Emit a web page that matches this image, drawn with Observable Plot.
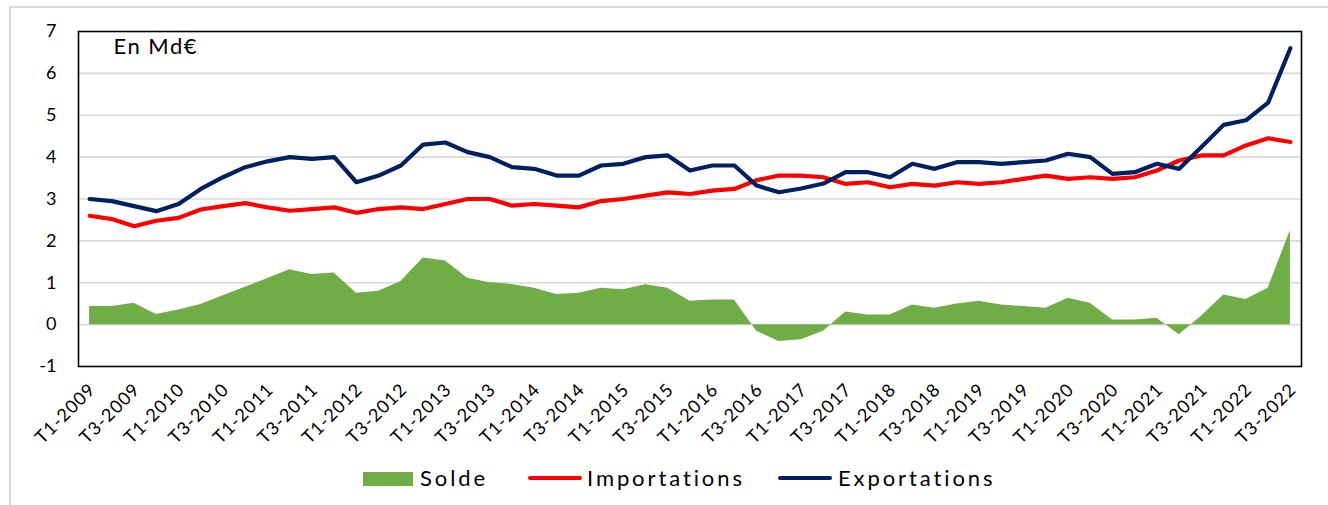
<!DOCTYPE html>
<html>
<head>
<meta charset="utf-8">
<script src="https://cdn.jsdelivr.net/npm/d3@7"></script>
<script src="https://cdn.jsdelivr.net/npm/@observablehq/plot@0.6"></script>
<style>
  html, body { margin: 0; padding: 0; background: #fff; overflow: hidden; }
  body { width: 1328px; height: 505px; position: relative; font-family: Lato, "Open Sans", sans-serif; }
  #border { position: absolute; left: 9px; top: 6px; width: 1400px; height: 600px; border: 2px solid #d9d9d9; box-sizing: border-box; }
  #chart { position: absolute; left: 0; top: 0; }
  .leg { position: absolute; font-size: 22px; letter-spacing: 2.9px; color: #000; line-height: 1; }
  .sw { position: absolute; }
  #chart g[aria-label="x-axis tick label"] text { letter-spacing: 1px; }
  #chart g[aria-label="text"] text { letter-spacing: 1.5px; }
</style>
</head>
<body>
<div id="border"></div>
<div id="chart"></div>
<div id="legend"></div>
<script>
const years = d3.range(2009, 2023);
const quarters = years.flatMap(y => [1, 2, 3, 4].map(q => `T${q}-${y}`)).slice(0, 55);

const exportations = [3.0, 2.95, 2.83, 2.71, 2.88, 3.24, 3.52, 3.76, 3.9, 4.0,
  3.96, 4.0, 3.4, 3.56, 3.8, 4.3, 4.35, 4.12, 4.0, 3.76,
  3.72, 3.56, 3.56, 3.8, 3.84, 4.0, 4.04, 3.68, 3.8, 3.8,
  3.32, 3.16, 3.25, 3.37, 3.64, 3.64, 3.52, 3.84, 3.72, 3.88,
  3.88, 3.84, 3.88, 3.92, 4.08, 4.0, 3.6, 3.64, 3.84, 3.72,
  4.24, 4.77, 4.88, 5.3, 6.6];
const importations = [2.6, 2.52, 2.35, 2.48, 2.55, 2.75, 2.83, 2.9, 2.8, 2.72,
  2.76, 2.8, 2.67, 2.76, 2.8, 2.76, 2.88, 3.0, 3.0, 2.84,
  2.88, 2.84, 2.8, 2.95, 3.0, 3.08, 3.16, 3.12, 3.2, 3.24,
  3.45, 3.56, 3.56, 3.52, 3.36, 3.4, 3.28, 3.36, 3.32, 3.4,
  3.36, 3.4, 3.48, 3.56, 3.48, 3.52, 3.48, 3.52, 3.68, 3.92,
  4.04, 4.04, 4.28, 4.45, 4.36];
const solde = [0.43, 0.43, 0.51, 0.24, 0.35, 0.48, 0.69, 0.89, 1.1, 1.31,
  1.2, 1.23, 0.75, 0.8, 1.03, 1.59, 1.52, 1.11, 1.0, 0.96,
  0.87, 0.72, 0.75, 0.87, 0.83, 0.95, 0.87, 0.56, 0.59, 0.59,
  -0.16, -0.4, -0.36, -0.16, 0.3, 0.23, 0.23, 0.47, 0.39, 0.49,
  0.56, 0.47, 0.43, 0.39, 0.63, 0.51, 0.11, 0.11, 0.15, -0.24,
  0.2, 0.71, 0.6, 0.87, 2.25];
const yTicks = [-1, 0, 1, 2, 3, 4, 5, 6, 7];
const gridValues = [0, 1, 2, 3, 4, 5, 6];
const xTickIndex = d3.range(0, 55, 2);
const unitLabel = "En Md€";
const seriesNames = ["Solde", "Importations", "Exportations"];
const colors = ["#70ad47", "#ff0000", "#002060"];

const data = quarters.map((q, i) => ({i, q, exp: exportations[i], imp: importations[i], solde: solde[i]}));

const chart = Plot.plot({
  width: 1328,
  height: 455,
  marginLeft: 78,
  marginRight: 27,
  marginTop: 31,
  marginBottom: 89,
  style: {fontFamily: "Lato, 'Open Sans', sans-serif", color: "#000", background: "transparent"},
  x: {type: "linear", domain: [-0.5, quarters.length - 0.5]},
  y: {domain: [-1, 7]},
  marks: [
    Plot.ruleY(gridValues, {stroke: "#d9d9d9", strokeWidth: 1.6}),
    Plot.areaY(data, {x: "i", y: "solde", fill: colors[0]}),
    Plot.line(data, {x: "i", y: "imp", stroke: colors[1], strokeWidth: 4.2, strokeLinejoin: "round", strokeLinecap: "round"}),
    Plot.line(data, {x: "i", y: "exp", stroke: colors[2], strokeWidth: 4.2, strokeLinejoin: "round", strokeLinecap: "round"}),
    Plot.frame({stroke: "#000", strokeWidth: 1.6}),
    Plot.axisY(yTicks, {tickSize: 0, tickPadding: 22, fontSize: 18, label: null, tickFormat: d => String(d)}),
    Plot.axisX(xTickIndex, {tickSize: 0, tickPadding: 20, tickRotate: -45, fontSize: 18, label: null, dx: 3, tickFormat: i => quarters[i]}),
    Plot.text([unitLabel], {frameAnchor: "top-left", dx: 35, dy: 7, fontSize: 22, textAnchor: "start", lineAnchor: "top"})
  ]
});
document.getElementById("chart").appendChild(chart);

// legend
const legend = document.getElementById("legend");
const items = [
  {type: "rect", x: 363, y: 472, w: 50, h: 14, color: colors[0], tx: 420, label: seriesNames[0]},
  {type: "line", x: 528, y: 476, w: 54, h: 4, color: colors[1], tx: 587, label: seriesNames[1]},
  {type: "line", x: 778, y: 476, w: 54, h: 4, color: colors[2], tx: 838, label: seriesNames[2]}
];
for (const it of items) {
  const s = document.createElement("div");
  s.className = "sw";
  s.style.left = it.x + "px"; s.style.top = it.y + "px";
  s.style.width = it.w + "px"; s.style.height = it.h + "px";
  s.style.background = it.color;
  if (it.type === "line") s.style.borderRadius = "2px";
  legend.appendChild(s);
  const t = document.createElement("div");
  t.className = "leg";
  t.style.left = it.tx + "px"; t.style.top = "467px";
  t.textContent = it.label;
  legend.appendChild(t);
}
</script>
</body>
</html>
